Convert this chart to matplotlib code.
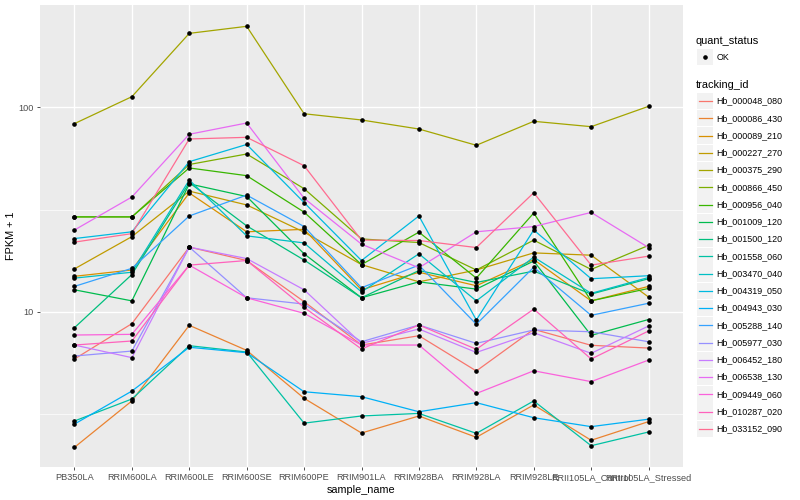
import matplotlib
matplotlib.use('Agg')
import matplotlib.pyplot as plt
from matplotlib.lines import Line2D
from matplotlib.patches import Rectangle
from matplotlib.ticker import FixedLocator, NullFormatter

plt.rcParams['font.family'] = ['Liberation Sans', 'DejaVu Sans']

samples = ['PB350LA', 'RRIM600LA', 'RRIM600LE', 'RRIM600SE', 'RRIM600PE', 'RRIM901LA',
           'RRIM928BA', 'RRIM928LA', 'RRIM928LE', 'RRII105LA_Control', 'RRII105LA_Stressed']

tracking_ids = ['Hb_000048_080', 'Hb_000086_430', 'Hb_000089_210', 'Hb_000227_270', 'Hb_000375_290',
                'Hb_000866_450', 'Hb_000956_040', 'Hb_001009_120', 'Hb_001500_120', 'Hb_001558_060',
                'Hb_003470_040', 'Hb_004319_050', 'Hb_004943_030', 'Hb_005288_140', 'Hb_005977_030',
                'Hb_006452_180', 'Hb_006538_130', 'Hb_009449_060', 'Hb_010287_020', 'Hb_033152_090']

colors = ['#F8766D', '#EA8331', '#D89000', '#C09B00', '#A3A500', '#7CAE00', '#39B600', '#00BB4E',
          '#00BF7D', '#00C1A3', '#00BFC4', '#00BAE0', '#00B0F6', '#35A2FF', '#9590FF', '#C77CFF',
          '#E76BF3', '#FA62DB', '#FF62BC', '#FF6C91']

# FPKM + 1 per sample (in the order of `samples`)
hb_000048_080 = [5.87, 8.74, 20.7, 17.8, 11.2, 6.87, 7.63, 5.13, 8.20, 6.85, 6.64]
hb_000086_430 = [2.17, 3.66, 8.58, 6.47, 3.77, 2.55, 3.09, 2.43, 3.50, 2.35, 2.90]
hb_000089_210 = [14.9, 16.0, 38.1, 24.6, 25.3, 12.8, 15.6, 13.4, 18.0, 11.3, 13.3]
hb_000227_270 = [16.2, 23.3, 38.9, 33.3, 24.5, 17.0, 14.0, 16.0, 19.4, 18.9, 11.8]
hb_000375_290 = [83.2, 112.7, 230.0, 249.0, 93.0, 86.7, 78.3, 65.2, 85.4, 80.4, 101.1]
hb_000866_450 = [29.1, 29.1, 52.5, 59.1, 40.0, 22.7, 21.8, 16.0, 22.4, 16.1, 21.1]
hb_000956_040 = [29.1, 29.1, 50.5, 46.3, 30.7, 17.0, 24.5, 14.6, 30.4, 11.3, 13.0]
hb_001009_120 = [12.8, 11.3, 42.2, 36.6, 19.2, 11.7, 14.0, 12.9, 17.7, 7.66, 9.16]
hb_001500_120 = [8.35, 15.2, 42.8, 26.3, 17.9, 11.7, 15.9, 13.9, 15.8, 12.2, 14.5]
hb_001558_060 = [2.92, 3.74, 6.82, 6.35, 2.85, 3.09, 3.18, 2.54, 3.66, 2.21, 2.58]
hb_003470_040 = [14.6, 15.6, 44.1, 23.5, 21.7, 12.5, 19.2, 11.3, 18.5, 12.3, 14.7]
hb_004319_050 = [22.8, 24.6, 54.2, 65.8, 34.2, 17.8, 29.4, 9.11, 25.1, 14.5, 15.0]
hb_004943_030 = [2.82, 4.09, 6.70, 6.30, 4.06, 3.84, 3.24, 3.59, 3.03, 2.74, 2.98]
hb_005288_140 = [13.3, 16.3, 29.4, 37.2, 26.1, 13.1, 16.9, 8.68, 16.5, 9.60, 11.0]
hb_005977_030 = [6.07, 6.42, 20.7, 11.7, 10.9, 7.13, 8.61, 7.00, 8.14, 7.98, 7.13]
hb_006452_180 = [6.87, 5.96, 20.7, 18.2, 12.8, 7.00, 8.23, 6.32, 7.89, 6.26, 8.51]
hb_006538_130 = [25.1, 36.4, 73.8, 83.8, 35.9, 21.4, 16.4, 24.6, 26.1, 30.6, 20.6]
hb_009449_060 = [7.69, 7.75, 16.9, 11.7, 9.82, 6.87, 6.87, 3.98, 5.14, 4.55, 5.80]
hb_010287_020 = [6.87, 7.19, 16.9, 17.8, 10.5, 6.57, 8.61, 6.55, 10.3, 5.87, 8.05]
hb_033152_090 = [21.9, 24.1, 70.0, 71.3, 51.8, 22.4, 22.3, 20.6, 38.2, 16.9, 18.7]

series = [hb_000048_080, hb_000086_430, hb_000089_210, hb_000227_270, hb_000375_290,
          hb_000866_450, hb_000956_040, hb_001009_120, hb_001500_120, hb_001558_060,
          hb_003470_040, hb_004319_050, hb_004943_030, hb_005288_140, hb_005977_030,
          hb_006452_180, hb_006538_130, hb_009449_060, hb_010287_020, hb_033152_090]

W, H = 800, 500
fig = plt.figure(figsize=(8, 5), dpi=100)
fig.patch.set_facecolor('white')
ax = fig.add_axes([40 / W, 33 / H, 643 / W, 462 / H])
ax.set_facecolor('#EBEBEB')

x = list(range(len(samples)))
for vals, col in zip(series, colors):
    ax.plot(x, vals, color=col, lw=0.9, zorder=3, solid_capstyle='butt')
for vals in series:
    ax.plot(x, vals, ls='none', marker='o', ms=2.3, color='black', zorder=4)

ax.set_yscale('log')
ax.set_ylim(1.739, 316.6)
ax.set_xlim(-0.6, len(samples) - 0.4)

ax.yaxis.set_major_locator(FixedLocator([10, 100]))
ax.yaxis.set_minor_locator(FixedLocator([10 ** 0.5, 10 ** 1.5]))
ax.yaxis.set_minor_formatter(NullFormatter())
ax.set_yticklabels(['10', '100'])
ax.set_xticks(x)
ax.set_xticklabels(samples)

ax.grid(which='major', color='white', lw=1.0, zorder=1)
ax.grid(which='minor', axis='y', color='white', lw=0.5, zorder=1)
ax.set_axisbelow(True)
for s in ax.spines.values():
    s.set_visible(False)
ax.tick_params(which='major', length=2.5, width=0.6, color='#333333', labelsize=6.6,
               labelcolor='#4D4D4D', pad=2)
ax.tick_params(which='minor', length=0)

ax.set_xlabel('sample_name', fontsize=7.8, color='black', labelpad=2)
ax.set_ylabel('FPKM + 1', fontsize=7.8, color='black', labelpad=1.5)

# ---- legends (drawn in figure pixel coords) ----
def fx(px):
    return px / W

def fy(py):
    return 1 - py / H

fig.text(fx(696), fy(41), 'quant_status', fontsize=7.9, va='center', ha='left')
fig.patches.append(Rectangle((fx(697), fy(65)), 16 / W, 16 / H, transform=fig.transFigure,
                             facecolor='#F2F2F2', edgecolor='none'))
fig.lines.append(Line2D([fx(705)], [fy(57.3)], transform=fig.transFigure, marker='o', ms=2.3,
                        color='black', ls='none'))
fig.text(fx(716.5), fy(57.3), 'OK', fontsize=6.4, va='center', ha='left')

fig.text(fx(696), fy(84.5), 'tracking_id', fontsize=7.9, va='center', ha='left')
for i, (tid, col) in enumerate(zip(tracking_ids, colors)):
    cy = 101 + i * 17.26
    fig.patches.append(Rectangle((fx(697), fy(cy + 8.2)), 16 / W, 16.4 / H, transform=fig.transFigure,
                                 facecolor='#F2F2F2', edgecolor='none'))
    fig.lines.append(Line2D([fx(699), fx(711.5)], [fy(cy), fy(cy)], transform=fig.transFigure,
                            color=col, lw=0.9))
    fig.text(fx(716.5), fy(cy), tid, fontsize=6.4, va='center', ha='left')

fig.savefig('out.png', dpi=100)
